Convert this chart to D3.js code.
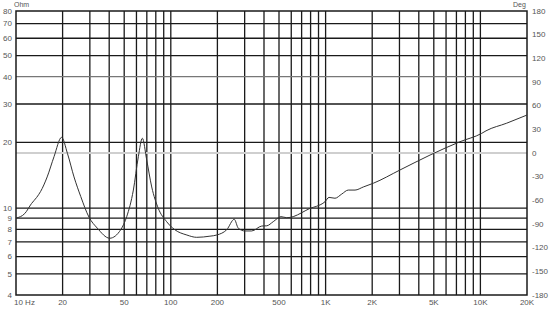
<!DOCTYPE html>
<html>
<head>
<meta charset="utf-8">
<script src="https://cdn.jsdelivr.net/npm/d3@7"></script>
<style>
  body { margin: 0; background: #fff; }
  text { font-family: "Liberation Sans", Arial, sans-serif; fill: #555; }
</style>
</head>
<body>
<script>
// impedance curve (Hz, Ohm)
var freqs = [10, 11.4, 12.6, 13.6, 14.4, 15.9, 17.6, 19.7, 21.5, 23.7, 26.2, 29.6, 33.5, 40.3, 47.5, 51.9, 57.3, 61.7, 65.5, 69.9, 75.3, 83, 94, 106, 127, 147, 179, 198, 230, 257, 273, 301, 333, 387, 417, 459, 515, 561, 618, 701, 793, 876, 991, 1052, 1150, 1271, 1402, 1549, 1752, 2033, 3022, 4723, 7383, 10190, 10870, 14790, 20000];
var ohms  = [9.0, 9.45, 10.5, 11.2, 11.9, 13.9, 17.2, 21.1, 17.8, 13.9, 11.3, 9.1, 8.1, 7.28, 7.97, 9.14, 12.1, 17.2, 20.9, 16.6, 12.5, 9.98, 8.67, 7.97, 7.53, 7.35, 7.44, 7.53, 7.97, 8.89, 8.09, 7.86, 7.86, 8.28, 8.3, 8.67, 9.14, 9.04, 9.14, 9.53, 9.98, 10.2, 10.7, 11.2, 11.1, 11.6, 12.1, 12.1, 12.5, 13.0, 14.95, 17.5, 20.15, 22.0, 22.6, 24.5, 26.7];

// grid and tick labels
var xGrid = [20, 30, 40, 50, 60, 70, 80, 90, 100, 200, 300, 400, 500, 600, 700, 800, 900, 1000, 2000, 3000, 4000, 5000, 6000, 7000, 8000, 9000, 10000];
var xLabels = [[20, "20"], [50, "50"], [100, "100"], [200, "200"], [500, "500"], [1000, "1K"], [2000, "2K"], [5000, "5K"], [10000, "10K"], [20000, "20K"]];
var yGrid = [5, 6, 7, 8, 9, 10, 20, 30, 40, 50, 60, 70];
var yLabels = [4, 5, 6, 7, 8, 9, 10, 20, 30, 40, 50, 60, 70, 80];
var degLabels = [180, 150, 120, 90, 60, 30, 0, -30, -60, -90, -120, -150, -180];

var margin = {top: 11, right: 23, bottom: 14, left: 16},
    width = 550 - margin.left - margin.right,
    height = 309 - margin.top - margin.bottom;

var x = d3.scaleLog().domain([10, 20000]).range([0, width]);
var y = d3.scaleLog().domain([4, 80]).range([height, 0]);
var yDeg = d3.scaleLinear().domain([-180, 180]).range([height, 0]);

var svg = d3.select("body").append("svg")
    .attr("width", 550)
    .attr("height", 309);

var g = svg.append("g")
    .attr("transform", "translate(" + margin.left + "," + margin.top + ")");

// vertical grid
g.selectAll(".vgrid")
    .data(xGrid)
    .enter().append("line")
    .attr("x1", function(d) { return x(d); })
    .attr("x2", function(d) { return x(d); })
    .attr("y1", 0)
    .attr("y2", height)
    .attr("stroke", "#1a1a1a")
    .attr("stroke-width", 1.3);

// horizontal grid (the 40 line is drawn lighter)
g.selectAll(".hgrid")
    .data(yGrid)
    .enter().append("line")
    .attr("x1", 0)
    .attr("x2", width)
    .attr("y1", function(d) { return y(d); })
    .attr("y2", function(d) { return y(d); })
    .attr("stroke", function(d) { return d === 40 ? "#777" : "#1a1a1a"; })
    .attr("stroke-width", 1.3);

// zero degree line
g.append("line")
    .attr("x1", 0)
    .attr("x2", width)
    .attr("y1", yDeg(0))
    .attr("y2", yDeg(0))
    .attr("stroke", "#cfcfcf")
    .attr("stroke-width", 2);

// frame
g.append("rect")
    .attr("width", width)
    .attr("height", height)
    .attr("fill", "none")
    .attr("stroke", "#1a1a1a")
    .attr("stroke-width", 1.5);

// impedance curve
var data = freqs.map(function(f, i) { return {f: f, z: ohms[i]}; });
var line = d3.line()
    .x(function(d) { return x(d.f); })
    .y(function(d) { return y(d.z); })
    .curve(d3.curveMonotoneX);

g.append("path")
    .datum(data)
    .attr("fill", "none")
    .attr("stroke", "#333")
    .attr("stroke-width", 1)
    .attr("d", line);

// left labels
g.selectAll(".ylab")
    .data(yLabels)
    .enter().append("text")
    .attr("x", -4)
    .attr("y", function(d) { return y(d); })
    .attr("dy", "0.35em")
    .attr("text-anchor", "end")
    .style("font-size", "8px")
    .text(function(d) { return d; });

// right labels
g.selectAll(".dlab")
    .data(degLabels)
    .enter().append("text")
    .attr("x", width + 5)
    .attr("y", function(d) { return yDeg(d); })
    .attr("dy", "0.35em")
    .style("font-size", "8px")
    .text(function(d) { return d; });

// bottom labels
g.selectAll(".xlab")
    .data(xLabels)
    .enter().append("text")
    .attr("x", function(d) { return x(d[0]); })
    .attr("y", height + 10)
    .attr("text-anchor", "middle")
    .style("font-size", "8px")
    .text(function(d) { return d[1]; });

g.append("text")
    .attr("x", -2)
    .attr("y", height + 10)
    .style("font-size", "8px")
    .text("10  Hz");

// unit labels
svg.append("text")
    .attr("x", 14)
    .attr("y", 7)
    .style("font-size", "7px")
    .text("Ohm");

svg.append("text")
    .attr("x", 513)
    .attr("y", 7)
    .style("font-size", "7px")
    .text("Deg");
</script>
</body>
</html>
